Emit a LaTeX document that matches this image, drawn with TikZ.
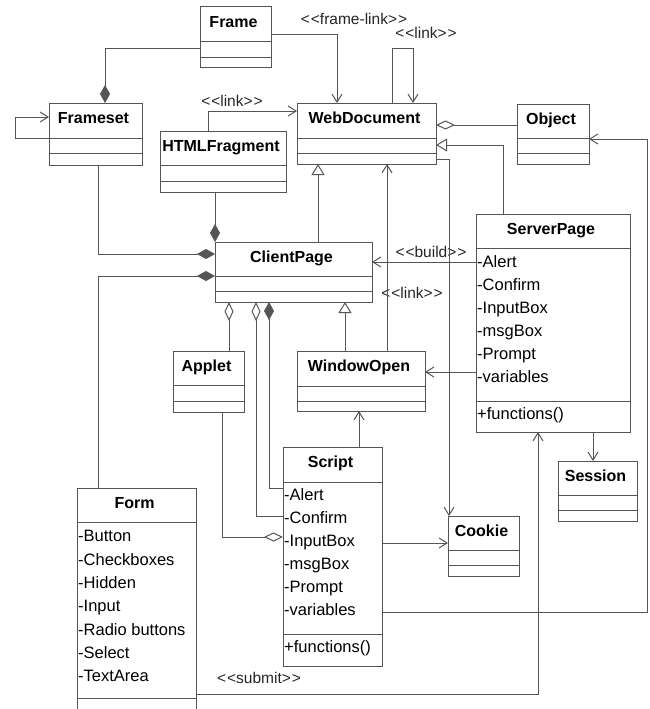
\documentclass[tikz,border=0pt]{standalone}
\usepackage{fontspec}
\setmainfont{Liberation Sans}
\usetikzlibrary{arrows.meta}

\definecolor{umlline}{RGB}{85,85,85}
\newcommand{\umlst}[1]{<\kern1pt<#1>\kern1pt>}

\tikzset{
  cls/.style={draw=umlline, line width=1pt, anchor=north west, inner sep=0pt, outer sep=0pt},
  ttl/.style={inner sep=0pt, text height=11.5pt, text depth=0pt, font=\fontsize{16}{19}\selectfont\bfseries},
  att/.style={inner sep=0pt, anchor=west, text height=11.8pt, text depth=0pt, font=\fontsize{16.5}{20}\selectfont},
  stereo/.style={inner sep=0pt, text height=11.5pt, text depth=0pt, text=black!85, font=\fontsize{15.5}{19}\selectfont},
  conn/.style={draw=umlline, line width=1pt},
  nav/.style={conn, -{Straight Barb[length=8pt,width=10pt]}},
  comp/.style={conn, -{Diamond[length=18pt,width=10pt]}},
  aggr/.style={conn, -{Diamond[open,length=19pt,width=9pt,fill=white]}},
  gen/.style={conn, -{Triangle[open,length=11pt,width=13pt,fill=white]}},
}

\begin{document}
\begin{tikzpicture}[x=1pt, y=-1pt]

\fill[white] (0,0) rectangle (649,709);
\useasboundingbox (0,0) rectangle (649,709);

% classes
\foreach \n/\x/\y/\w/\h/\t in {
    frame/200/7/71/61/Frame,
    frameset/49/103/93/62/Frameset,
    htmlfrag/160/131/126/61/HTMLFragment,
    webdoc/297/103/139/61/WebDocument,
    object/517/104/72/60/Object,
    clientpage/215/242/157/60/ClientPage,
    serverpage/476/214/154/218/ServerPage,
    applet/173/351/71/61/Applet,
    windowopen/297/351/128/60/WindowOpen,
    script/283/447/99/219/Script,
    form/77/488/119/224/Form,
    cookie/448/516/71/60/Cookie,
    session/558/461/79/60/Session}
{
    \node[cls, minimum width=\w pt, minimum height=\h pt] (\n) at (\x,\y) {};
    \node[ttl] (\n-t) at ([xshift=-2pt, yshift=-15pt]\n.north) {\t};
}

% compartments
\foreach \n/\a/\b in {frame/42/58, frameset/138/153, htmlfrag/165/181,
    webdoc/138/153, object/138/153, clientpage/276/291, serverpage/248/401,
    applet/385/401, windowopen/386/401, script/482/634, form/522/698,
    cookie/550/565, session/495/510}
    \draw[conn] (\n.west |- 0,\a) -- (\n.east |- 0,\a)
                (\n.west |- 0,\b) -- (\n.east |- 0,\b);

% attributes
\foreach \t [count=\i] in {-Alert,-Confirm,-InputBox,-msgBox,-Prompt,-variables}
{
    \node[att] (serverpage-a\i) at (477,{262+23*(\i-1)}) {\t};
    \node[att] (script-a\i) at (284,{495+23*(\i-1)}) {\t};
}
\node[att] (serverpage-f) at (477,414) {+functions()};
\node[att] (script-f) at (284,647) {+functions()};

\foreach \t [count=\i] in {-Button,-Checkboxes,-Hidden,-Input,-Radio buttons,-Select,-TextArea}
    \node[att] (form-a\i) at (78,{536+23.3*(\i-1)}) {\t};

% stereotypes
\node[stereo] (l-framelink) at (354,19) {\umlst{frame-link}};
\node[stereo] (l-selflink) at (426,33) {\umlst{link}};
\node[stereo] (l-htmllink) at (232,101) {\umlst{link}};
\node[stereo] (l-build) at (431,252) {\umlst{build}};
\node[stereo] (l-wolink) at (412,293) {\umlst{link}};
\node[stereo] (l-submit) at (259,678) {\umlst{submit}};

% connectors
\draw[comp] (frame.west |- 0,49) -| (frameset.north -| 105,0);
\draw[nav] (frame.east |- 0,35) -| (webdoc.north -| 337,0);
\draw[nav] (webdoc.north -| 392,0) |- (413,49) -- (webdoc.north -| 413,0);
\draw[nav] (frameset.west |- 0,138) -| (15,117) -- (frameset.west |- 0,117);
\draw[nav] (htmlfrag.north -| 208,0) |- (webdoc.west |- 0,111);
\draw[comp] (htmlfrag.south -| 215,0) -- (clientpage.north -| 215,0);
\draw[comp] (frameset.south -| 98,0) |- (clientpage.west |- 0,254);
\draw[comp] (form.north -| 98,0) |- (clientpage.west |- 0,276);
\draw[gen] (clientpage.north -| 318,0) -- (webdoc.south -| 318,0);
\draw[aggr] (applet.north -| 229,0) -- (clientpage.south -| 229,0);
\draw[aggr] (script.west |- 0,516) -| (clientpage.south -| 256,0);
\draw[comp] (script.west |- 0,488) -| (clientpage.south -| 269,0);
\draw[aggr] (applet.south -| 222,0) |- (script.west |- 0,537);
\draw[gen] (windowopen.north -| 345,0) -- (clientpage.south -| 345,0);
\draw[nav] (windowopen.north -| 387,0) -- (webdoc.south -| 387,0);
\draw[nav] (serverpage.west |- 0,262) -- (clientpage.east |- 0,262);
\draw[gen] (serverpage.north -| 503,0) |- (webdoc.east |- 0,145);
\draw[aggr] (object.west |- 0,125) -- (webdoc.east |- 0,125);
\draw[nav] (webdoc.east |- 0,159) -| (cookie.north -| 449,0);
\draw[nav] (serverpage.west |- 0,372) -- (windowopen.east |- 0,372);
\draw[nav] (serverpage.south -| 593,0) -- (session.north -| 593,0);
\draw[nav] (script.north -| 359,0) -- (windowopen.south -| 359,0);
\draw[nav] (script.east |- 0,543) -- (cookie.west |- 0,543);
\draw[nav] (script.east |- 0,612) -| (647,139) -- (object.east |- 0,139);
\draw[nav] (form.east |- 0,694) -| (serverpage.south -| 538,0);

\end{tikzpicture}
\end{document}
